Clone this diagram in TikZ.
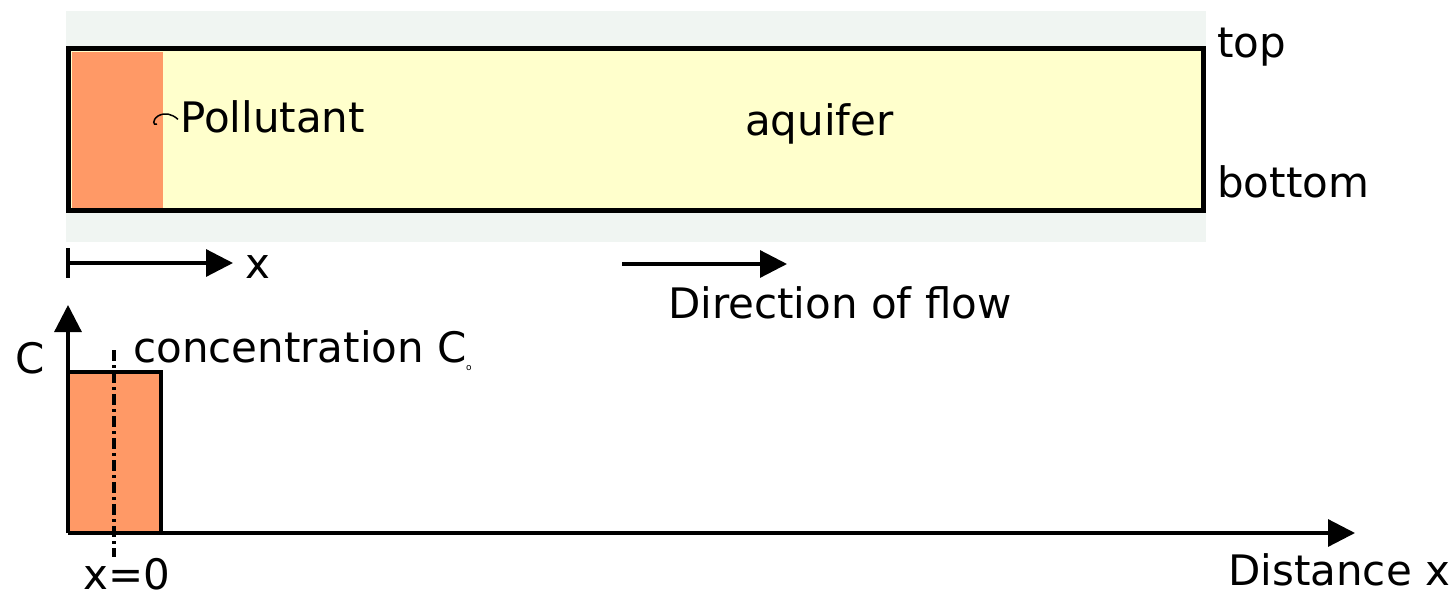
\documentclass[tikz,border=0pt]{standalone}
\usepackage{fontspec}
\setmainfont{DejaVu Sans}
\usetikzlibrary{arrows.meta}
\definecolor{band}{HTML}{F0F5F2}
\definecolor{aqui}{HTML}{FFFFCC}
\definecolor{poll}{HTML}{FF9966}
\tikzset{
  lbl/.style={inner sep=0pt, anchor=base west, font=\fontsize{42}{50}\selectfont},
  axisarrow/.style={line width=3.2pt, -{Triangle[length=27pt,width=27pt]}},
}
\begin{document}
\begin{tikzpicture}[x=1pt,y=-1pt]
\useasboundingbox (0,0) rectangle (1456,597);
% background band
\fill[band] (66,11) rectangle (1206,242);
% aquifer
\draw[fill=aqui, line width=5.5pt] (68.5,48.5) rectangle (1203.5,210.5);
\fill[poll] (71.5,51.5) rectangle (163,207.5);
% labels top
\node[lbl] (top) at (1217,57) {top};
\node[lbl] (bottom) at (1217,197) {bottom};
\node[lbl] (aquifer) at (745,135) {aquifer};
\node[lbl] (pollutant) at (180,132) {Pollutant};
\draw[line width=1.5pt] (pollutant.west) ++(-2pt,-3pt) .. controls (172,114) and (165,112) .. (158,116) .. controls (152,120) and (153,126) .. (157,124);
% x arrow
\coordinate (xs) at (68,263);
\coordinate (xe) at (233,263);
\draw[line width=3.2pt] (68,248) -- (68,278);
\draw[axisarrow] (xs) -- (xe);
\node[lbl] (xlbl) at (245,278) {x};
% direction of flow
\coordinate (fs) at (622,264);
\coordinate (fe) at (787,264);
\draw[axisarrow] (fs) -- (fe);
\node[lbl] (flow) at (668,318) {Direction of flow};
% lower graph
\fill[poll] (68,372) rectangle (161,533);
\draw[line width=3.2pt] (68,533) -- (68,372) -- (161,372) -- (161,533);
\coordinate (origin) at (68,533);
\coordinate (ctip) at (68,305);
\coordinate (dtip) at (1355,533);
\draw[axisarrow] (68,372) -- (ctip);
\draw[axisarrow] (origin) -- (dtip);
\draw[line width=3.5pt, dash pattern=on 11pt off 4pt on 3pt off 4pt] (114,350) -- (114,557);
\node[lbl] (clbl) at (15,373) {C};
\node[lbl] (conc) at (133,362) {concentration C};
\node[inner sep=0pt, anchor=base west, font=\fontsize{9}{10}\selectfont] (sub) at (466,370) {o};
\node[lbl] (x0) at (83,589) {x=0};
\node[lbl] (dist) at (1228,585) {Distance x};
\end{tikzpicture}
\end{document}
